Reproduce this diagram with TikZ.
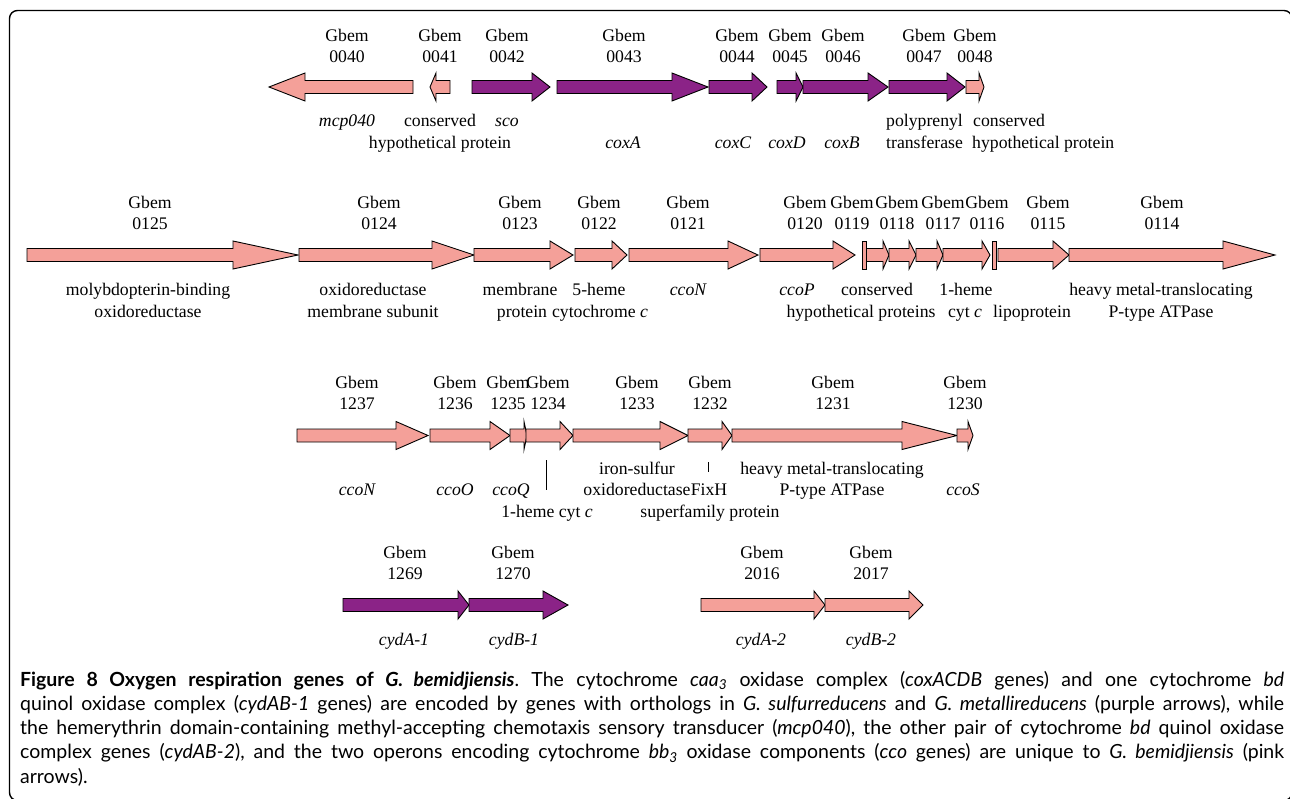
\documentclass[tikz,border=0pt]{standalone}
\usepackage{fontspec}
\setmainfont{Liberation Serif}
\newfontfamily\didafont{Lato}
\usepackage{tikz}
\usetikzlibrary{positioning}
\usepackage{xcolor}

\definecolor{rosa}{RGB}{244,160,153}
\definecolor{viola}{RGB}{139,35,135}

\tikzset{
    gene/.style = {draw = black, line width = 0.9pt, line join = miter},
    etich/.style = {font = \fontsize{17.7}{21}\selectfont, inner sep = 0pt, anchor = base},
    corsivo/.style = {etich, font = \fontsize{17.7}{21}\selectfont\itshape},
}

% freccia: inizio, base della punta, punta, y, colore
\newcommand{\freccia}[5]{%
    \filldraw[gene, fill = #5] (#1,{#4-\corpo}) -- (#2,{#4-\corpo}) -- (#2,{#4-\testa}) -- (#3,#4)
        -- (#2,{#4+\testa}) -- (#2,{#4+\corpo}) -- (#1,{#4+\corpo}) -- cycle;
}

\begin{document}
\begin{tikzpicture}[x = 1pt, y = -1pt]
    % Parametri
    \pgfmathsetmacro{\corpo}{6.5}
    \pgfmathsetmacro{\testa}{14}
    \useasboundingbox (0,0) rectangle (1290,798);
    % Cornice
    \draw[line width = 1.4pt, rounded corners = 8pt] (9.5,10.5) rectangle (1292,800.5);

    % Riga 1
    \foreach \a/\h/\b/\c in {413/305/269/rosa, 450/436/430/rosa, 472/532/550/viola, 557/672/708/viola,
        709/752/767/viola, 777/796/803/viola, 803/868/888/viola, 889/947/965/viola, 966/979/984/rosa} {
        \freccia{\a}{\h}{\b}{87}{\c}
    };
    \foreach \x/\n in {347/0040, 440/0041, 507/0042, 624/0043, 737/0044, 790/0045, 843/0046, 924/0047, 975/0048} {
        \node[etich] (gb\n) at (\x,41) {Gbem};
        \node[etich] (id\n) at (\x,62) {\n};
    };
    \node[corsivo] (mcp) at (347,126) {mcp040};
    \node[etich] (cons1) at (440,126) {conserved};
    \node[etich] (hyp1) at (440,148) {hypothetical protein};
    \node[corsivo] (sco) at (507,126) {sco};
    \node[corsivo] (coxA) at (623,148) {coxA};
    \node[corsivo] (coxC) at (733,148) {coxC};
    \node[corsivo] (coxD) at (787,148) {coxD};
    \node[corsivo] (coxB) at (842,148) {coxB};
    \node[etich, anchor = base west] (poly) at (886,126) {polyprenyl};
    \node[etich, anchor = base west] (trans) at (886,148) {transferase};
    \node[etich, anchor = base west] (cons2) at (973,126) {conserved};
    \node[etich, anchor = base west] (hyp2) at (972,148) {hypothetical protein};

    % Riga 2
    \foreach \a/\h/\b in {27/233/298, 299/432/474, 474/550/573, 575/612/627, 629/728/758, 760/833/855,
        866/883/889, 889/909/916, 916/937/943, 943/982/990, 998/1053/1069, 1069/1223/1275} {
        \freccia{\a}{\h}{\b}{255}{rosa}
    };
    \filldraw[gene, fill = rosa] (862,241) rectangle (866,269);
    \filldraw[gene, fill = rosa] (992,241) rectangle (996,269);
    \foreach \x/\n in {150/0125, 379/0124, 520/0123, 599/0122, 688/0121, 805/0120, 852/0119, 897/0118,
        943/0117, 987/0116, 1048/0115, 1162/0114} {
        \node[etich] (gb\n) at (\x,208) {Gbem};
        \node[etich] (id\n) at (\x,229) {\n};
    };
    \node[etich] (moly) at (148,295) {molybdopterin-binding};
    \node[etich] (oxi1) at (148,317) {oxidoreductase};
    \node[etich] (oxi2) at (373,295) {oxidoreductase};
    \node[etich] (memsub) at (373,317) {membrane subunit};
    \node[etich] (mem) at (520,295) {membrane};
    \node[etich] (prot) at (522,317) {protein};
    \node[etich] (penta) at (599,295) {5-heme};
    \node[etich] (cytc1) at (600,317) {cytochrome \textit{c}};
    \node[corsivo] (ccoN1) at (688,295) {ccoN};
    \node[corsivo] (ccoP) at (797,295) {ccoP};
    \node[etich] (cons3) at (877,295) {conserved};
    \node[etich] (hyp3) at (861,317) {hypothetical proteins};
    \node[etich] (mono1) at (966,295) {1-heme};
    \node[etich] (cytc2) at (965,317) {cyt \textit{c}};
    \node[etich] (lipo) at (1032,317) {lipoprotein};
    \node[etich] (heavy1) at (1161,295) {heavy metal-translocating};
    \node[etich] (atp1) at (1161,317) {P-type ATPase};

    % Riga 3
    \foreach \a/\h/\b in {297/396/428, 430/490/510, 510/524/527, 526/560/573, 573/660/688, 688/722/732,
        732/902/957, 957/968/973} {
        \freccia{\a}{\h}{\b}{435.5}{rosa}
    };
    \foreach \x/\n in {357/1237, 455/1236, 508/1235, 548/1234, 637/1233, 710/1232, 833/1231, 965/1230} {
        \node[etich] (gb\n) at (\x,388) {Gbem};
        \node[etich] (id\n) at (\x,409) {\n};
    };
    \node[corsivo] (ccoN2) at (357,495) {ccoN};
    \node[corsivo] (ccoO) at (455,495) {ccoO};
    \node[corsivo] (ccoQ) at (511,495) {ccoQ};
    \node[etich] (mono2) at (547,517) {1-heme cyt \textit{c}};
    \node[etich] (iron) at (637,474) {iron-sulfur};
    \node[etich] (oxi3) at (637,495) {oxidoreductase};
    \node[etich] (fixh) at (709,495) {FixH};
    \node[etich] (super) at (710,517) {superfamily protein};
    \node[etich] (heavy2) at (832,474) {heavy metal-translocating};
    \node[etich] (atp2) at (832,495) {P-type ATPase};
    \node[corsivo] (ccoS) at (963,495) {ccoS};
    \coordinate (t1a) at (546,460);
    \coordinate (t1b) at (546,490);
    \coordinate (t2a) at (708,462);
    \coordinate (t2b) at (708,472);
    \draw[line width = 0.9pt] (t1a) -- (t1b);
    \draw[line width = 0.9pt] (t2a) -- (t2b);

    % Riga 4
    \foreach \a/\h/\b/\c in {343/458/469/viola, 469/543/568/viola, 701/814/825/rosa, 825/909/923/rosa} {
        \freccia{\a}{\h}{\b}{605}{\c}
    };
    \foreach \x/\n in {405/1269, 513/1270, 762/2016, 871/2017} {
        \node[etich] (gb\n) at (\x,558) {Gbem};
        \node[etich] (id\n) at (\x,579) {\n};
    };
    \node[corsivo] (cydA1) at (404,645) {cydA-1};
    \node[corsivo] (cydB1) at (514,645) {cydB-1};
    \node[corsivo] (cydA2) at (761,645) {cydA-2};
    \node[corsivo] (cydB2) at (871,645) {cydB-2};

    % Didascalia
    \node[anchor = base west, inner sep = 0pt] (dida) at (20,686) {\parbox[t]{1264pt}{%
        \didafont\fontsize{19.5}{24.3}\selectfont\hyphenpenalty=10000\frenchspacing
        \textbf{Figure 8 Oxygen respiration genes of \textit{G. bemidjiensis}}. The cytochrome \textit{caa\textsubscript{3}} oxidase complex (\textit{coxACDB} genes) and one cytochrome \textit{bd}\linebreak
        quinol oxidase complex (\textit{cydAB-1} genes) are encoded by genes with orthologs in \textit{G. sulfurreducens} and \textit{G. metallireducens} (purple arrows), while\linebreak
        the hemerythrin domain-containing methyl-accepting chemotaxis sensory transducer (\textit{mcp040}), the other pair of cytochrome \textit{bd} quinol oxidase\linebreak
        complex genes (\textit{cydAB-2}), and the two operons encoding cytochrome \textit{bb\textsubscript{3}} oxidase components (\textit{cco} genes) are unique to \textit{G. bemidjiensis} (pink\linebreak
        arrows).}};
\end{tikzpicture}
\end{document}
